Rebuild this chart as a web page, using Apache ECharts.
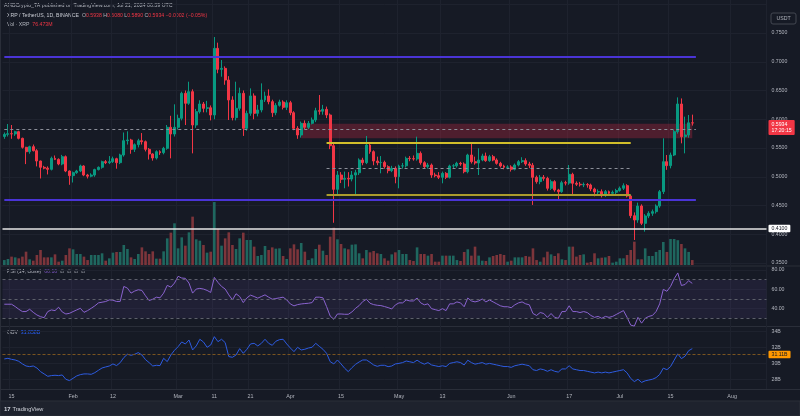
<!DOCTYPE html>
<html><head><meta charset="utf-8">
<script src="https://cdn.jsdelivr.net/npm/echarts@6/dist/echarts.min.js"></script>
<style>html,body{margin:0;padding:0;background:#161a25;}#c{width:800px;height:416px;}</style>
</head><body><div id="c"></div>
<script>
// ---------- DATA ----------
const startDate = '2024-01-13';
const axisDays = 211;
const tickDates = ['2024-01-15','2024-02-01','2024-02-12','2024-03-01','2024-03-11','2024-03-21','2024-04-01','2024-04-15','2024-05-01','2024-05-13','2024-06-01','2024-06-17','2024-07-01','2024-07-15','2024-08-01'];
const tickTexts = ['15','Feb','12','Mar','11','21','Apr','15','May','13','Jun','17','Jul','15','Aug'];

const opens = [.5700,.5737,.5749,.5745,.5784,.5668,.5512,.5436,.5523,.5453,
.5274,.5164,.5150,.5129,.5320,.5302,.5222,.5349,.5100,.5019,
.5071,.5100,.5187,.5030,.5010,.5030,.5124,.5164,.5262,.5245,
.5262,.5314,.5245,.5378,.5627,.5639,.5477,.5558,.5627,.5610,
.5477,.5396,.5326,.5436,.5419,.5494,.5860,.5743,.5860,.6016,
.6451,.6277,.6480,.5900,.6132,.6265,.6190,.6200,.6074,.7233,
.6868,.6885,.6682,.6335,.6028,.6190,.6451,.5842,.6103,.6405,
.6103,.6161,.6335,.6405,.6306,.6114,.6242,.6300,.6207,.6288,
.6114,.5842,.5726,.5929,.5860,.5929,.5987,.6149,.6140,.6172,
.6074,.5540,.4781,.5030,.4955,.4972,.4960,.5030,.5070,.5291,
.5245,.5552,.5436,.5274,.5245,.5250,.5175,.5106,.5146,.5001,
.5187,.5190,.5320,.5315,.5310,.5407,.5245,.5175,.5204,.5030,
.5019,.4990,.5059,.4990,.5187,.5190,.5233,.5222,.5088,.5378,
.5262,.5240,.5291,.5361,.5280,.5349,.5291,.5233,.5187,.5164,
.5170,.5129,.5204,.5262,.5280,.5222,.5200,.4990,.4915,.4990,
.4972,.4799,.4915,.4770,.4741,.4897,.4890,.5042,.4886,.4870,
.4860,.4865,.4857,.4787,.4735,.4741,.4683,.4741,.4712,.4730,
.4760,.4800,.4845,.4665,.4323,.4248,.4491,.4190,.4318,.4364,
.4393,.4491,.4741,.5262,.5193,.5378,.5784,.6265,.5697,.5726,
.5938];
const closes = [.5737,.5749,.5745,.5784,.5668,.5512,.5436,.5523,.5453,.5274,
.5164,.5150,.5129,.5320,.5302,.5222,.5349,.5100,.5019,.5071,
.5100,.5187,.5030,.5010,.5030,.5124,.5164,.5262,.5245,.5262,
.5314,.5245,.5378,.5627,.5639,.5477,.5558,.5627,.5610,.5477,
.5396,.5326,.5436,.5419,.5494,.5860,.5743,.5860,.6016,.6451,
.6277,.6480,.5900,.6132,.6265,.6190,.6200,.6074,.7233,.6868,
.6885,.6682,.6335,.6028,.6190,.6451,.5842,.6103,.6405,.6103,
.6161,.6335,.6405,.6306,.6114,.6242,.6300,.6207,.6288,.6114,
.5842,.5726,.5929,.5860,.5929,.5987,.6149,.6140,.6172,.6074,
.5540,.4781,.5030,.4955,.4972,.4960,.5030,.5070,.5291,.5245,
.5552,.5436,.5274,.5245,.5250,.5175,.5106,.5146,.5001,.5187,
.5190,.5320,.5315,.5310,.5407,.5245,.5175,.5204,.5030,.5019,
.4990,.5059,.4990,.5187,.5190,.5233,.5222,.5088,.5378,.5262,
.5240,.5291,.5361,.5280,.5349,.5291,.5233,.5187,.5164,.5170,
.5129,.5204,.5262,.5280,.5222,.5200,.4990,.4915,.4990,.4972,
.4799,.4915,.4770,.4741,.4897,.4890,.5042,.4886,.4870,.4860,
.4865,.4857,.4787,.4735,.4741,.4683,.4741,.4712,.4730,.4760,
.4800,.4845,.4665,.4323,.4248,.4491,.4190,.4318,.4364,.4393,
.4491,.4741,.5262,.5193,.5378,.5784,.6265,.5697,.5726,.5938,
.5934];
const highs = [.5770,.5917,.5900,.5800,.5800,.5680,.5520,.5540,.5560,.5480,
.5280,.5190,.5180,.5350,.5370,.5320,.5380,.5370,.5110,.5090,
.5120,.5210,.5200,.5050,.5060,.5140,.5180,.5280,.5290,.5360,
.5350,.5330,.5400,.5770,.5790,.5660,.5580,.5660,.5760,.5630,
.5500,.5410,.5460,.5460,.5520,.5900,.6060,.6260,.6080,.6480,
.6500,.6653,.6520,.6180,.6330,.6300,.6320,.6240,.7430,.7332,
.7030,.6920,.6750,.6400,.6653,.6550,.6500,.6150,.6537,.6450,
.6250,.6624,.6480,.6520,.6340,.6280,.6340,.6330,.6330,.6320,
.6140,.5880,.5960,.5980,.5970,.6030,.6200,.6422,.6250,.6220,
.6100,.5580,.5100,.5080,.5090,.5080,.5100,.5120,.5320,.5330,
.5709,.5600,.5460,.5350,.5360,.5280,.5200,.5190,.5180,.5210,
.5240,.5350,.5360,.5370,.5697,.5440,.5270,.5240,.5230,.5070,
.5080,.5090,.5080,.5210,.5220,.5260,.5260,.5250,.5400,.5570,
.5350,.5494,.5400,.5420,.5380,.5380,.5320,.5260,.5210,.5200,
.5200,.5230,.5290,.5340,.5320,.5260,.5240,.5020,.5030,.5030,
.5000,.4950,.4940,.4790,.4930,.4930,.5204,.5070,.4920,.4910,
.4900,.4890,.4880,.4810,.4780,.4780,.4770,.4760,.4760,.4790,
.4830,.4886,.4870,.4680,.4380,.4550,.4520,.4350,.4400,.4430,
.4520,.4770,.5668,.5378,.5420,.5820,.6380,.6362,.6045,.6074,
.6080];
const lows = [.5660,.5700,.5660,.5710,.5650,.5490,.5220,.5400,.5440,.5180,
.4970,.5130,.5040,.5110,.5290,.5200,.5200,.5080,.4860,.4900,
.5050,.5080,.5010,.4970,.4990,.5000,.5110,.5140,.5220,.5220,
.5240,.5140,.5220,.5350,.5560,.5400,.5430,.5510,.5560,.5440,
.5300,.5280,.5300,.5380,.5390,.5470,.5320,.5700,.5820,.5980,
.5900,.6250,.5407,.5850,.6100,.6120,.6120,.5980,.6000,.6800,
.6740,.6600,.5987,.5980,.5980,.6150,.5710,.5800,.6060,.6000,
.6050,.6120,.6300,.6260,.6040,.6070,.6220,.6170,.6160,.6070,
.5810,.5660,.5680,.5830,.5830,.5910,.5950,.6080,.6080,.6020,
.5480,.4200,.4700,.4890,.4800,.4830,.4920,.4683,.5030,.5200,
.5220,.5400,.5200,.5200,.5060,.5140,.5060,.5080,.4886,.4799,
.5140,.5160,.5270,.5280,.5280,.5210,.5140,.5140,.4980,.4990,
.4960,.4886,.4960,.4970,.5150,.5160,.5190,.5060,.5060,.5230,
.5210,.5030,.5270,.5260,.5260,.5270,.5210,.5160,.5130,.5130,
.5090,.5110,.5180,.5240,.5190,.5150,.4510,.4880,.4870,.4930,
.4760,.4770,.4740,.4596,.4720,.4850,.4860,.4700,.4840,.4830,
.4820,.4810,.4750,.4660,.4690,.4640,.4650,.4670,.4680,.4700,
.4740,.4770,.4640,.4280,.3900,.4200,.4160,.4045,.4280,.4320,
.4360,.4460,.4700,.5120,.5146,.5360,.5750,.5581,.5407,.5680,
.5890];
// volume, millions of XRP
const volumes = [76,92,128,117,102,128,204,87,66,153,
230,117,117,117,163,51,66,153,255,240,
168,168,128,76,153,153,153,179,66,102,
189,199,199,306,245,117,92,168,270,209,
168,209,97,97,209,408,495,638,255,423,
296,500,740,393,372,306,189,204,964,551,
296,408,500,306,245,408,495,383,383,281,
138,153,291,230,270,250,255,138,92,255,
316,240,337,204,76,102,245,311,219,153,
434,571,393,321,255,240,311,316,179,102,
230,194,214,179,168,102,66,163,194,230,
168,168,76,61,270,168,168,143,168,51,
51,143,143,143,143,76,61,199,240,143,
281,143,66,61,117,138,153,168,153,51,
66,117,117,117,138,128,255,76,51,117,
204,163,138,179,87,76,281,281,128,153,
163,36,46,179,102,112,117,138,36,51,
102,102,153,230,357,87,87,255,138,138,
200,230,352,200,398,398,380,321,255,200,
76];
const rsi = [44.6,44.6,44.6,42.2,39.4,37.0,37.0,39.4,36.2,33.5,
31.7,30.7,37.0,38.7,38.0,41.5,36.6,34.5,35.2,37.0,
38.7,40.4,36.2,38.0,40.4,42.9,46.0,46.7,47.4,49.1,
48.8,47.4,47.5,63.0,61.3,56.1,58.2,59.6,58.9,53.3,
48.4,49.8,51.9,51.2,56.1,64.1,62.3,66.5,73.5,71.7,
71.4,66.5,56.1,60.3,61.0,60.3,58.9,56.8,72.4,67.2,
63.0,60.3,54.3,49.1,55.4,52.6,46.3,51.2,54.0,52.6,
50.9,52.6,54.3,51.9,49.8,50.5,51.2,51.9,49.1,44.9,
42.9,44.2,44.9,45.3,45.6,46.3,51.9,51.9,51.2,42.2,
32.4,29.0,34.5,34.5,34.2,34.2,36.6,40.4,43.2,47.4,
49.8,45.6,44.2,43.5,43.2,42.2,41.1,39.7,43.9,46,
46,49,48,48,51,46,44,45,40,39,
38,40,38,45,45,47,46,42,51,48,
47,48,50,47,49,47,45,43,42,42,
41,44,46,47,45,44,35,33,36,35,
31,35,31,30,37,37,43,37,37,36,
37,36,33,31,32,30,32,31,32,34,
36,38,31,23,22,31,25,30,32,33,
37,45,60,58,63,71,77,64,65,69,
66.16];
// OBV, billions
const obv = [30.56,30.64,30.51,30.43,30.26,29.93,29.67,29.59,29.67,29.42,
28.96,28.67,28.37,28.46,28.50,28.46,28.54,27.99,27.83,28.12,
28.42,28.58,28.67,28.67,28.62,28.83,29.13,29.42,29.55,29.67,
29.93,29.72,30.09,30.73,31.15,31.02,31.15,31.36,31.06,30.47,
30.09,29.67,29.76,29.72,30.64,30.22,31.06,31.65,32.11,32.70,
32.45,32.95,31.69,32.20,33.04,32.70,32.03,32.32,33.37,32.74,
33.04,32.62,30.85,30.77,31.06,31.86,31.27,31.78,32.45,32.53,
32.20,32.53,33.04,32.53,32.28,32.79,32.99,33.04,32.45,31.94,
31.48,32.03,31.69,31.78,31.94,32.03,32.53,32.15,31.78,31.27,
30.22,29.93,30.43,29.93,29.38,28.96,29.46,29.88,30.18,30.43,
30.43,30.14,29.80,29.63,29.76,29.76,29.59,29.67,29.93,30.0,
30.1,30.3,30.2,30.1,30.4,30.1,29.9,30.1,29.8,29.7,
29.6,29.7,29.6,30.0,30.1,30.2,30.1,29.8,30.4,30.1,
29.9,30.0,30.1,29.9,30.0,29.9,29.8,29.7,29.6,29.6,
29.5,29.7,29.8,29.9,29.8,29.7,29.2,29.1,29.3,29.2,
29.0,29.2,29.0,28.9,29.3,29.3,29.7,29.3,29.2,29.1,
29.1,29.0,28.9,28.8,28.9,28.8,28.9,28.8,28.9,29.0,
29.1,29.2,28.8,28.1,27.7,28.0,27.6,27.8,27.9,28.0,
28.2,28.6,29.4,29.2,29.6,30.4,31.2,30.6,30.9,31.6,
31.86];
// chart drawings
const hLevels = [ // [price, fromDate, toDate]
  [0.708, '2024-01-13', '2024-07-22'],
  [0.460, '2024-01-13', '2024-07-22']
];
const grayDashLevels = [[0.583, '2024-01-13', '2024-07-22'], [0.5147, '2024-04-11', '2024-07-04']];
const yellowLevels = [[0.559, '2024-04-11', '2024-07-04'], [0.468, '2024-04-11', '2024-07-04']];
const supportLevel = 0.41;
const zone = {low: 0.5669, high: 0.5923, from: '2024-04-04', to: '2024-07-21'};
const lastPrice = 0.5934;
const obvLevel = 31.11;

// ---------- BUILD ----------
const dates = [];
{ let t = Date.parse(startDate + 'T00:00:00Z'); for (let k = 0; k < axisDays; k++) { dates.push(new Date(t).toISOString().slice(0, 10)); t += 86400000; } }
const FONT = 'Liberation Sans, Arial, sans-serif';
const AX = '#b2b5be';
const GRIDC = '#1e222e';
const isTick = (i, v) => tickDates.indexOf(v) >= 0;

const L = 2.5, R = 33.5;
const chart = echarts.init(document.getElementById('c'));
const xAx = (g) => ({
  type: 'category', gridIndex: g, data: dates, boundaryGap: true,
  axisLine: {show: false}, axisTick: {show: false},
  axisLabel: g === 4 ? {show: true, interval: isTick, formatter: v => tickTexts[tickDates.indexOf(v)], color: AX, fontSize: 5.4, margin: 5, fontFamily: FONT} : {show: false},
  splitLine: g === 4 ? {show: true, interval: isTick, lineStyle: {color: GRIDC, width: 1}} : {show: false}
});
const lblStyle = {color: AX, fontSize: 5.2, fontFamily: FONT, margin: 5};
const NONE = 'rgba(0,0,0,0)';

const seg = (lv, style) => [{coord: [lv[1], lv[0]], lineStyle: style}, {coord: [lv[2], lv[0]]}];

const option = {
  backgroundColor: '#161a25',
  animation: false,
  textStyle: {fontFamily: FONT},
  grid: [
    {left: L, right: R, top: 4.25, height: 258.75},
    {left: L, right: R, top: 150, height: 115},
    {left: L, right: R, top: 250.7, height: 77.3},
    {left: L, right: R, top: 315.8, height: 79.3},
    {left: L, right: R, top: 0, height: 389}
  ],
  xAxis: [0, 1, 2, 3, 4].map(xAx),
  yAxis: [
    {gridIndex: 0, position: 'right', min: 0.35, max: 0.80, interval: 0.05, axisLine: {show: false}, axisTick: {show: false},
      axisLabel: Object.assign({formatter: v => v > 0.79 ? '' : v.toFixed(4)}, lblStyle), splitLine: {lineStyle: {color: GRIDC}}},
    {gridIndex: 1, min: 0, max: 1760, show: false},
    {gridIndex: 2, position: 'right', min: 20, max: 100, interval: 20, axisLine: {show: false}, axisTick: {show: false},
      axisLabel: Object.assign({formatter: v => (v > 30 && v < 90) ? v.toFixed(2) : ''}, lblStyle),
      splitLine: {lineStyle: {color: [NONE, GRIDC, GRIDC, GRIDC, NONE]}}},
    {gridIndex: 3, position: 'right', min: 26, max: 36, interval: 2, axisLine: {show: false}, axisTick: {show: false},
      axisLabel: Object.assign({formatter: v => (v > 27 && v < 35) ? v + 'B' : ''}, lblStyle),
      splitLine: {lineStyle: {color: [NONE, GRIDC, GRIDC, GRIDC, GRIDC, NONE]}}},
    {gridIndex: 4, show: false}
  ],
  series: [
    {type: 'bar', xAxisIndex: 1, yAxisIndex: 1, barWidth: '72%', silent: true,
      data: volumes.map((v, i) => ({value: v, itemStyle: {color: closes[i] >= opens[i] ? '#1f675f' : '#7d353b'}}))},
    {type: 'candlestick', xAxisIndex: 0, yAxisIndex: 0, barWidth: '68%', silent: true,
      data: opens.map((o, i) => [o, closes[i], lows[i], highs[i]]),
      itemStyle: {color: '#089981', color0: '#f23645', borderColor: '#089981', borderColor0: '#f23645', borderWidth: 1},
      markArea: {silent: true, itemStyle: {color: 'rgba(170,38,62,0.38)'},
        data: [[{xAxis: zone.from, yAxis: zone.high}, {xAxis: zone.to, yAxis: zone.low}]]},
      markLine: {silent: true, symbol: ['none', 'none'], animation: false, label: {show: false},
        data: [
          ...hLevels.map(lv => seg(lv, {color: '#4a34d6', width: 2, type: 'solid'})),
          ...grayDashLevels.map(lv => seg(lv, {color: '#8c8f99', width: 1, type: [3, 3]})),
          seg(yellowLevels[0], {color: '#d1be2a', width: 2, type: 'solid'}),
          seg(yellowLevels[1], {color: '#ab9c2c', width: 2, type: 'solid'}),
          {yAxis: supportLevel, lineStyle: {color: '#e6e6e6', width: 1.5, type: 'solid'},
            label: {show: true, position: 'end', distance: 2, formatter: supportLevel.toFixed(4), backgroundColor: '#ffffff', color: '#131722', fontSize: 5.2, padding: [1.5, 3, 1, 3], borderRadius: 1}},
          {yAxis: lastPrice, lineStyle: {color: NONE, width: 1, type: 'solid'},
            label: {show: true, position: 'end', distance: 2, offset: [0, 2.5], formatter: lastPrice.toFixed(4) + '\n17:20:15', backgroundColor: '#f23645', color: '#ffffff', fontSize: 5.2, lineHeight: 6.5, padding: [1, 3, 1, 3], borderRadius: 1}}
        ]}
    },
    {type: 'line', xAxisIndex: 2, yAxisIndex: 2, data: rsi, symbol: 'none', silent: true,
      lineStyle: {color: '#8a63cf', width: 1},
      markArea: {silent: true, itemStyle: {color: 'rgba(126,87,194,0.10)'}, data: [[{yAxis: 70}, {yAxis: 30}]]},
      markLine: {silent: true, symbol: ['none', 'none'], label: {show: false},
        lineStyle: {color: '#5d606b', type: [3, 3], width: 1},
        data: [{yAxis: 70}, {yAxis: 50}, {yAxis: 30}]}},
    {type: 'line', xAxisIndex: 3, yAxisIndex: 3, data: obv, symbol: 'none', silent: true,
      lineStyle: {color: '#2d5be0', width: 1},
      markLine: {silent: true, symbol: ['none', 'none'],
        data: [{yAxis: obvLevel, lineStyle: {color: '#7a5420', type: [3, 2], width: 1},
          label: {show: true, position: 'end', distance: 2, formatter: obvLevel.toFixed(2) + 'B', backgroundColor: '#ff9800', color: '#131722', fontSize: 5.2, padding: [1.5, 3, 1, 3], borderRadius: 1}}]}}
  ],
  graphic: [
    {type: 'line', shape: {x1: 0, y1: 266, x2: 800, y2: 266}, style: {stroke: '#2a2e39', lineWidth: 1}, silent: true},
    {type: 'line', shape: {x1: 0, y1: 326.5, x2: 800, y2: 326.5}, style: {stroke: '#2a2e39', lineWidth: 1}, silent: true},
    {type: 'line', shape: {x1: 0, y1: 389.5, x2: 800, y2: 389.5}, style: {stroke: '#2a2e39', lineWidth: 1}, silent: true},
    {type: 'line', shape: {x1: 0.5, y1: 0, x2: 0.5, y2: 401}, style: {stroke: '#2a2e39', lineWidth: 1}, silent: true},
    {type: 'rect', shape: {x: 0, y: 401, width: 800, height: 15}, style: {fill: '#1e222d', stroke: '#2a2e39', lineWidth: 1}, silent: true},
    {type: 'text', x: 4, y: 409, silent: true, style: {text: '17', fill: '#d1d4dc', fontSize: 6, fontWeight: 'bold', fontFamily: FONT, verticalAlign: 'middle'}},
    {type: 'text', x: 12.5, y: 409, silent: true, style: {text: 'TradingView', fill: '#d1d4dc', fontSize: 5.6, fontFamily: FONT, verticalAlign: 'middle'}},
    {type: 'text', x: 4, y: 6, silent: true, style: {text: 'AMBCrypto_TA published on TradingView.com, Jul 21, 2024 06:39 UTC', fill: '#b2b5be', fontSize: 5.3, fontFamily: FONT, verticalAlign: 'middle'}},
    {type: 'text', x: 7, y: 16, silent: true, style: {
      text: '{w|XRP / TetherUS, 1D, BINANCE}  {g|O}{r|0.5938} {g|H}{r|0.6080} {g|L}{r|0.5890} {g|C}{r|0.5934} {r|\u22120.0002 (\u22120.05%)}',
      fontSize: 5.2, fontFamily: FONT, fill: '#b2b5be', verticalAlign: 'middle',
      rich: {w: {fill: '#c9ccd4', fontSize: 5.2}, g: {fill: '#b2b5be', fontSize: 5.2}, r: {fill: '#f23645', fontSize: 5.2}}}},
    {type: 'text', x: 7, y: 24.5, silent: true, style: {
      text: '{g|Vol \u00b7 XRP}  {r|76.473M}', fontSize: 5.2, fontFamily: FONT, verticalAlign: 'middle',
      rich: {g: {fill: '#b2b5be', fontSize: 5.2}, r: {fill: '#f23645', fontSize: 5.2}}}},
    {type: 'text', x: 7, y: 272, silent: true, style: {
      text: '{g|RSI (14, close)}  {p|66.16}  {g|\u2205  \u2205  \u2205  \u2205}', fontSize: 5.2, fontFamily: FONT, verticalAlign: 'middle',
      rich: {g: {fill: '#b2b5be', fontSize: 5.2}, p: {fill: '#7e57c2', fontSize: 5.2}}}},
    {type: 'text', x: 7, y: 333, silent: true, style: {
      text: '{g|OBV}  {b|31.858B}', fontSize: 5.2, fontFamily: FONT, verticalAlign: 'middle',
      rich: {g: {fill: '#b2b5be', fontSize: 5.2}, b: {fill: '#2962ff', fontSize: 5.2}}}},
    {type: 'rect', shape: {x: 771, y: 13, width: 25, height: 11, r: 2}, style: {fill: '#161a25', stroke: '#434651', lineWidth: 1}, silent: true},
    {type: 'text', x: 783.5, y: 18.5, silent: true, style: {text: 'USDT', fill: '#b2b5be', fontSize: 5.2, fontFamily: FONT, align: 'center', verticalAlign: 'middle'}}
  ]
};
chart.setOption(option);
</script>
</body></html>
